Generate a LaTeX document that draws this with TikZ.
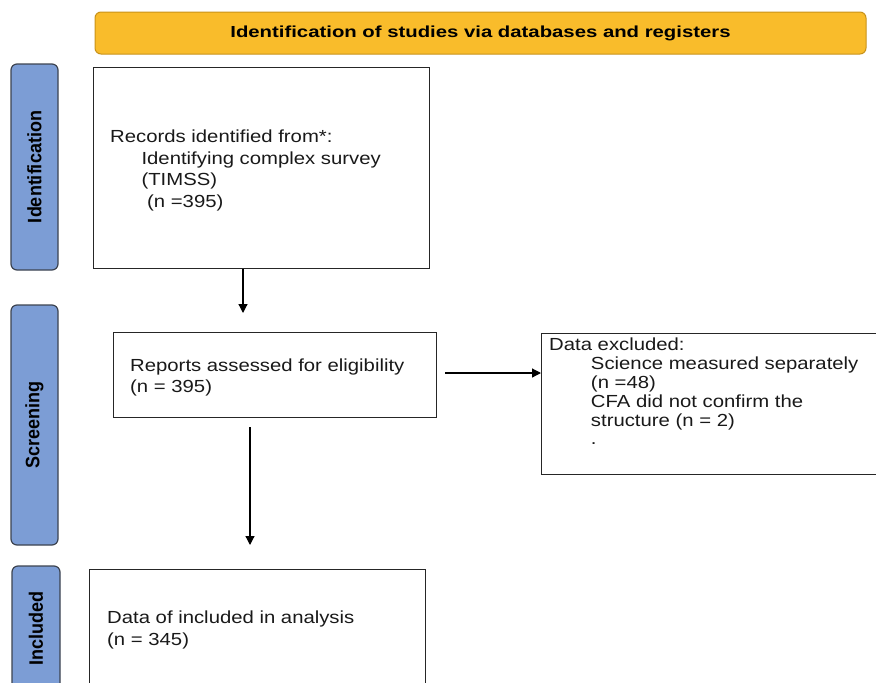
\documentclass[tikz,border=0pt]{standalone}
\usepackage{fontspec}
\usepackage{graphicx}
\setmainfont{Liberation Sans}
\usetikzlibrary{arrows.meta}
\definecolor{titlefill}{HTML}{F9BC2B}
\definecolor{titledraw}{HTML}{C8921A}
\definecolor{sidefill}{HTML}{7C9DD5}
\definecolor{sidedraw}{HTML}{3C4350}
\tikzset{
  titlebox/.style={draw=titledraw, fill=titlefill, line width=1pt, rounded corners=6pt, inner sep=0pt},
  sidebox/.style={draw=sidedraw, fill=sidefill, line width=1.2pt, rounded corners=6pt, inner sep=0pt, rotate=90,
     font=\fontsize{18}{18}\selectfont\bfseries},
  mainbox/.style={draw=black!85, line width=1.3pt, inner sep=0pt, anchor=north west},
  bodytext/.style={inner sep=0pt, anchor=north west, align=left, xscale=1.16,
     font=\fontsize{17.5}{21.5}\selectfont, text=black!90},
  arr/.style={line width=1.2pt, -{Triangle[length=9pt,width=9pt]}}
}
\begin{document}
\begin{tikzpicture}[x=1pt,y=-1pt]
\useasboundingbox (0,0) rectangle (876,683);
\clip (0,0) rectangle (876,683);
% title
\node[titlebox, minimum width=771pt, minimum height=42pt] (title) at (480.5,33)
  {\scalebox{1.27}[1]{\fontsize{16}{16}\selectfont\bfseries Identification of studies via databases and registers}};
% side labels
\node[sidebox, minimum width=206pt, minimum height=47pt] (sid) at (34.5,167) {\scalebox{1}[1.08]{Identification}};
\node[sidebox, minimum width=240pt, minimum height=47pt] (sscr) at (34.5,425) {\scalebox{1}[1.08]{Screening}};
\node[sidebox, minimum width=125pt, minimum height=48pt] (sinc) at (36,628.5) {\scalebox{1}[1.08]{Included}};
% boxes
\node[mainbox, minimum width=336pt, minimum height=201pt] (b1) at (93,67) {};
\node[mainbox, minimum width=323pt, minimum height=85pt] (b2) at (113,332) {};
\node[mainbox, minimum width=345pt, minimum height=141pt] (b3) at (541,333) {};
\node[mainbox, minimum width=336pt, minimum height=140pt] (b4) at (89,569) {};
% texts
\node[bodytext] (t1) at (110,130) {Records identified from*:\\
\hspace*{27pt}Identifying complex survey\\
\hspace*{27pt}(TIMSS)\\
\hspace*{27pt} (n =395)};
\node[bodytext] (t2) at (130,358.5) {Reports assessed for eligibility\\(n = 395)};
\node[bodytext, font=\fontsize{17.5}{18.8}\selectfont] (t3) at (549,338) {Data excluded:\\
\hspace*{36pt}Science measured separately\\
\hspace*{36pt}(n =48)\\
\hspace*{36pt}CFA did not confirm the\\
\hspace*{36pt}structure (n = 2)\\
\hspace*{36pt}.};
\node[bodytext] (t4) at (107,611) {Data of included in analysis\\(n = 345)};
% connectors
\coordinate (e1) at (243,313);
\coordinate (s2) at (250,427);
\coordinate (e2) at (250,545);
\coordinate (s3) at (445,373);
\draw[arr] (e1 |- b1.south) -- (e1);
\draw[arr] (s2) -- (e2);
\draw[arr] (s3) -- (s3 -| b3.west);
\end{tikzpicture}
\end{document}
